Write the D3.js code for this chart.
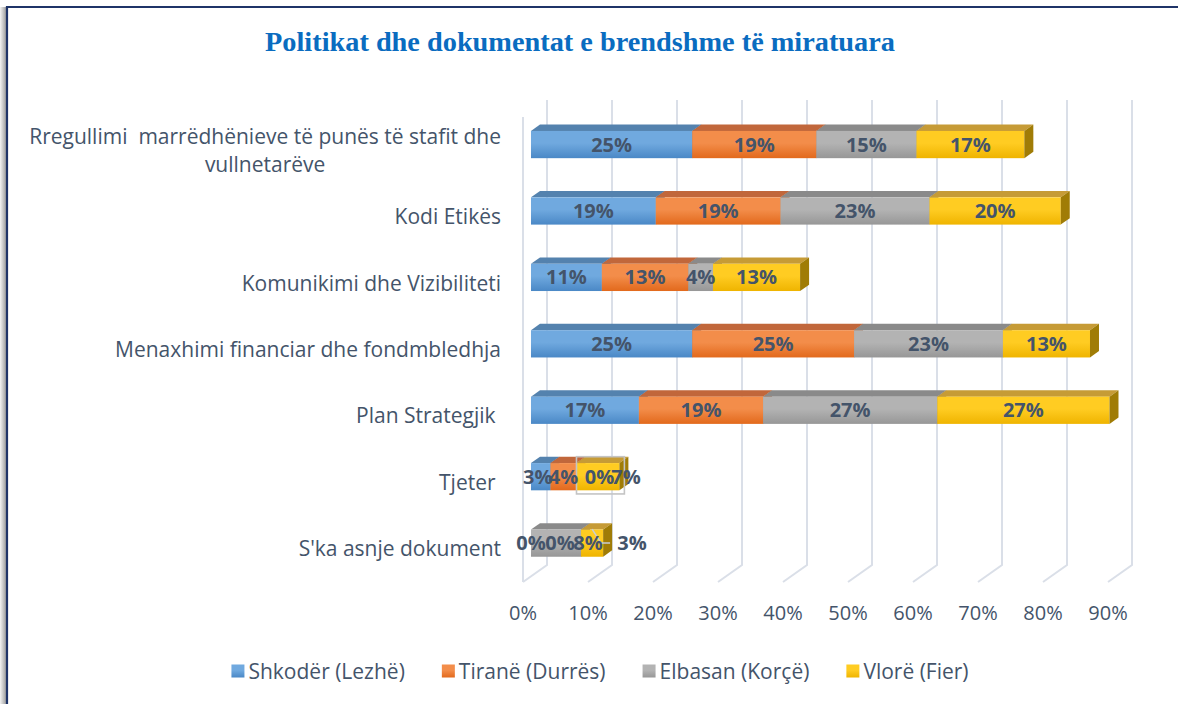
<!DOCTYPE html>
<html>
<head>
<meta charset="utf-8">
<script src="https://cdn.jsdelivr.net/npm/d3@7"></script>
<style>
  body { margin: 0; background: #fff; }
  svg text { white-space: pre; }
</style>
</head>
<body>
<svg id="chart" width="1178" height="704"></svg>
<script>
// categories, top to bottom (multi-line labels as arrays)
const categories = [
  ["Rregullimi  marrëdhënieve të punës të stafit dhe", "vullnetarëve"],
  ["Kodi Etikës"],
  ["Komunikimi dhe Vizibiliteti"],
  ["Menaxhimi financiar dhe fondmbledhja"],
  ["Plan Strategjik "],
  ["Tjeter "],
  ["S'ka asnje dokument"]
]
const seriesNames = ["Shkodër (Lezhë)", "Tiranë (Durrës)", "Elbasan (Korçë)", "Vlorë (Fier)"]

// values in %
const shkoder = [24.8, 19.2, 10.9, 24.8, 16.6, 3.0, 0]
const tirane  = [19.1, 19.2, 13.3, 24.9, 19.1, 4.0, 0]
const elbasan = [15.4, 22.9, 3.8, 22.9, 26.8, 0, 7.7]
const vlore   = [16.6, 20.2, 13.4, 13.4, 26.5, 6.6, 3.4]
const ticks = [0, 10, 20, 30, 40, 50, 60, 70, 80, 90]

const seriesValues = [shkoder, tirane, elbasan, vlore]

// colours: front gradient top/bottom, top face, side face
const palette = [
  { a: '#70a9df', b: '#4a88c6', top: '#5482ae', side: '#3f6c98' },
  { a: '#f38d4a', b: '#e2691c', top: '#c1673b', side: '#b3591f' },
  { a: '#b3b3b3', b: '#979797', top: '#8a8a8a', side: '#7a7a7a' },
  { a: '#ffcc22', b: '#efb400', top: '#c69b36', side: '#a07c06' }
]

// label nudges (px) for the overlapping small labels, key = row-series
const labelNudge = { '5-0': -3, '5-2': 23, '5-3': 28, '6-1': 29, '6-2': 32, '6-3': 40 }

const svg = d3.select('#chart')
const textColor = '#44546a'
const font = "'Open Sans', sans-serif"

// 3D projection: depth vector of the walls
const DX = 24, DY = -17
const d0 = 0.333, d1 = 0.708 // bar depth range

const x = d3.scaleLinear().domain([0, 90]).range([523, 1108])
const y = d3.scaleBand().domain(d3.range(categories.length)).range([117, 582])
const barH = y.bandwidth() * 0.41

// frame with shadow on the left
const defs = svg.append('defs')
const sh = defs.append('linearGradient').attr('id', 'shadow')
sh.append('stop').attr('offset', 0).attr('stop-color', '#f4f4f4')
sh.append('stop').attr('offset', 1).attr('stop-color', '#9e9e9e')
svg.append('rect').attr('x', 0).attr('y', 7).attr('width', 6).attr('height', 704)
  .attr('fill', 'url(#shadow)')
svg.append('path').attr('d', 'M7,704 L7,7 L1178,7')
  .attr('fill', 'none').attr('stroke', '#1f3468').attr('stroke-width', 2.2)

palette.forEach((p, i) => {
  const g = defs.append('linearGradient').attr('id', 'front' + i)
    .attr('x1', 0).attr('y1', 0).attr('x2', 0).attr('y2', 1)
  g.append('stop').attr('offset', 0).attr('stop-color', p.a)
  g.append('stop').attr('offset', 0.45).attr('stop-color', p.a)
  g.append('stop').attr('offset', 1).attr('stop-color', p.b)
})

// title
svg.append('text')
  .attr('x', 580).attr('y', 51)
  .attr('text-anchor', 'middle')
  .attr('font-family', "'Liberation Serif', 'Times New Roman', serif")
  .attr('font-weight', 'bold')
  .attr('font-size', 28.3)
  .attr('fill', '#0a6cc0')
  .text('Politikat dhe dokumentat e brendshme të miratuara')

// gridlines: back wall + floor
const grid = svg.append('g').attr('stroke', '#dadfe8').attr('stroke-width', 2).attr('fill', 'none')
const yTop = y.range()[0], yBot = y.range()[1]
grid.selectAll('path.g').data(ticks).join('path')
  .attr('d', t => `M${x(t) + DX},${yTop + DY} L${x(t) + DX},${yBot + DY} L${x(t)},${yBot}`)
grid.append('path').attr('d', `M${x(0)},${yTop} L${x(0)},${yBot}`)

// axis tick labels
svg.append('g').selectAll('text').data(ticks).join('text')
  .attr('x', t => x(t)).attr('y', 620)
  .attr('text-anchor', 'middle')
  .attr('font-family', font).attr('font-size', 20).attr('fill', textColor)
  .text(t => t + '%')

// category labels (block right-aligned, lines centred)
const catG = svg.append('g')
categories.forEach((lines, i) => {
  const cy = y(i) + y.bandwidth() / 2
  const lh = 28
  const t = catG.append('text')
    .attr('font-family', font).attr('font-size', 21).attr('fill', textColor)
  lines.forEach((ln, j) => {
    t.append('tspan').attr('y', cy + (j - (lines.length - 1) / 2) * lh + 7.5).text(ln)
  })
  if (lines.length > 1) {
    const w = d3.max(t.selectAll('tspan').nodes(), n => n.getComputedTextLength())
    t.attr('text-anchor', 'middle').selectAll('tspan').attr('x', 501 - w / 2)
  } else {
    t.attr('text-anchor', 'end').selectAll('tspan').attr('x', 501)
  }
})

// bars
const bars = svg.append('g')
const labels = []
categories.forEach((c, i) => {
  const fy = y(i) + y.bandwidth() / 2 + DY * d0 - barH / 2 // front face top
  const ox = DX * d0
  const bx = DX * (d1 - d0), by = DY * (d1 - d0)
  let cum = 0
  seriesValues.forEach((vals, s) => {
    const v = vals[i]
    const xa = x(cum) + ox, xb = x(cum + v) + ox
    cum += v
    const p = palette[s]
    if (v > 0) {
      bars.append('path')
        .attr('d', `M${xa},${fy} L${xa + bx},${fy + by} L${xb + bx},${fy + by} L${xb},${fy}Z`)
        .attr('fill', p.top)
      bars.append('rect')
        .attr('x', xa).attr('y', fy).attr('width', xb - xa).attr('height', barH)
        .attr('fill', `url(#front${s})`)
      bars.append('path')
        .attr('d', `M${xb},${fy} L${xb + bx},${fy + by} L${xb + bx},${fy + barH + by} L${xb},${fy + barH}Z`)
        .attr('fill', p.side)
    }
    labels.push({ i, s, v, cx: (xa + xb) / 2 + (labelNudge[i + '-' + s] || 0), cy: fy + barH / 2, xb, fy })
  })
})

// selection box seen around the "0%7%" labels of Tjeter
{
  const tj = labels.filter(l => l.i === 5)
  const xa = x(shkoder[5] + tirane[5]) + DX * d0
  const xe = tj[3].xb + DX * (d1 - d0)
  svg.append('rect')
    .attr('x', xa).attr('y', tj[3].fy + DY * (d1 - d0))
    .attr('width', xe - xa - 4).attr('height', barH + 10)
    .attr('fill', 'none').attr('stroke', '#c4c4c4').attr('stroke-width', 1.6)
}

// leader line for the S'ka "3%" label
{
  const l = labels.find(d => d.i === 6 && d.s === 3)
  const sx = x(elbasan[6] + vlore[6] / 2) + DX * d0
  svg.append('path')
    .attr('d', `M${sx},${l.cy - 14} L${sx + 9},${l.cy} L${l.cx - 22},${l.cy}`)
    .attr('fill', 'none').attr('stroke', '#c8ccd4').attr('stroke-width', 1.5)
}

// data labels
svg.append('g').selectAll('text').data(labels).join('text')
  .attr('x', d => d.cx).attr('y', d => d.cy + 7)
  .attr('text-anchor', 'middle')
  .attr('font-family', font).attr('font-weight', 'bold').attr('font-size', 20)
  .attr('fill', textColor)
  .text(d => Math.round(d.v) + '%')

// legend
const leg = svg.append('g')
let lx = 0
seriesNames.forEach((n, s) => {
  const g = leg.append('g')
  g.append('rect').attr('x', lx).attr('y', -6.5).attr('width', 13).attr('height', 13)
    .attr('fill', `url(#front${s})`)
  const t = g.append('text').attr('x', lx + 17).attr('y', 7.5)
    .attr('font-family', font).attr('font-size', 21).attr('fill', textColor).text(n)
  lx += 17 + t.node().getComputedTextLength() + 37
})
lx -= 37
leg.attr('transform', `translate(${600 - lx / 2},671)`)
</script>
</body>
</html>
